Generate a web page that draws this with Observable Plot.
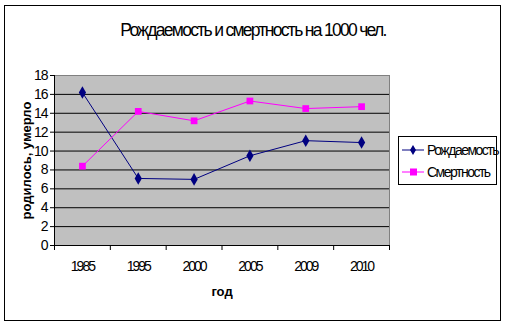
<!DOCTYPE html>
<html>
<head>
<meta charset="utf-8">
<script src="https://cdn.jsdelivr.net/npm/d3@7"></script>
<script src="https://cdn.jsdelivr.net/npm/@observablehq/plot@0.6"></script>
<style>
  html, body { margin: 0; padding: 0; background: #fff; }
  #wrap { position: relative; width: 506px; height: 326px; font-family: "Liberation Sans", Arial, sans-serif; overflow: hidden; }
  #border { position: absolute; left: 4px; top: 5px; width: 495px; height: 314px; border: 1.5px solid #000; }
  #title { position: absolute; left: 0; width: 506px; top: 20px; text-align: center; font-size: 17.5px; letter-spacing: -1.7px; color: #000; }
  #legend { position: absolute; left: 398px; top: 136px; width: 97px; height: 47px; border: 1px solid #000; background: #fff; }
  .li { position: absolute; left: 3px; height: 16px; display: flex; align-items: center; font-size: 14px; letter-spacing: -1.5px; }
  .li svg { margin-right: 2px; }
  #chart { position: absolute; left: 0; top: 0; }
  #chart g[aria-label="x-axis tick label"] text { letter-spacing: -2px; }
  #chart g[aria-label="y-axis tick label"] text { letter-spacing: -1px; }
</style>
</head>
<body>
<div id="wrap">
  <div id="chart"></div>
  <div id="border"></div>
  <div id="title"></div>
  <div id="legend"></div>
</div>
<script>
const categories = ["1985", "1995", "2000", "2005", "2009", "2010"];
const birthRate = [16.2, 7.1, 7.0, 9.5, 11.1, 10.9];
const deathRate = [8.4, 14.2, 13.2, 15.3, 14.5, 14.7];
const seriesNames = ["Рождаемость", "Смертность"];
const yTicks = [0, 2, 4, 6, 8, 10, 12, 14, 16, 18];
const titleText = "Рождаемость и смертность на 1000 чел.";
const yLabel = "родилось, умерло";
const xLabel = "год";

const colors = ["#000080", "#ff00ff"];
const symbols = ["diamond", "square"];

const rows = [];
[birthRate, deathRate].forEach((arr, s) => arr.forEach((v, i) => rows.push({i, v, s: seriesNames[s]})));
const idx = categories.map((_, i) => i);
const bounds = d3.range(-0.5, categories.length, 1);

const plot = Plot.plot({
  width: 506,
  height: 326,
  marginLeft: 54,
  marginRight: 117,
  marginTop: 75,
  marginBottom: 81,
  style: {fontFamily: "Liberation Sans, Arial, sans-serif", background: "transparent"},
  x: {type: "linear", domain: [-0.5, categories.length - 0.5], axis: null},
  y: {domain: [0, 18], axis: null},
  marks: [
    Plot.frame({fill: "#c0c0c0", stroke: "#808080"}),
    Plot.gridY(yTicks.filter(t => t > 0 && t < 18), {stroke: "#000", strokeOpacity: 1, strokeWidth: 1}),
    Plot.ruleX([-0.5], {stroke: "#000"}),
    Plot.ruleY([0], {stroke: "#000"}),
    Plot.axisY({ticks: yTicks, tickSize: 4, tickPadding: 3, fontSize: 14, label: null}),
    Plot.axisX({ticks: bounds, tickSize: 5, tickFormat: () => "", label: null}),
    Plot.axisX({ticks: idx, tickSize: 0, tickPadding: 16, tickFormat: i => categories[i], fontSize: 14, label: null}),
    Plot.text([yLabel], {frameAnchor: "left", textAnchor: "middle", dx: -28, rotate: -90, fontSize: 13, fontWeight: "bold", fill: "#000"}),
    Plot.text([xLabel], {frameAnchor: "bottom", dy: 50, fontSize: 13, fontWeight: "bold", fill: "#000"}),
    Plot.line(rows, {x: "i", y: "v", z: "s", stroke: d => d.s === seriesNames[0] ? colors[0] : colors[1], strokeWidth: 1}),
    Plot.dot(rows, {x: "i", y: "v", symbol: d => d.s === seriesNames[0] ? symbols[0] : symbols[1], fill: d => d.s === seriesNames[0] ? colors[0] : colors[1], r: 3.8, stroke: "none"})
  ]
});
document.getElementById("chart").appendChild(plot);
document.getElementById("title").textContent = titleText;

const legend = document.getElementById("legend");
seriesNames.forEach((name, k) => {
  const item = document.createElement("div");
  item.className = "li";
  item.style.top = (k === 0 ? 5 : 27) + "px";
  const shape = k === 0
    ? `<path d="M11,3 L14,8 L11,13 L8,8 Z" fill="${colors[0]}"/>`
    : `<rect x="8" y="4.5" width="7" height="7" fill="${colors[1]}"/>`;
  item.innerHTML = `<svg width="23" height="16"><line x1="0" x2="22" y1="8" y2="8" stroke="${colors[k]}" stroke-width="1"/>${shape}</svg><span>${name}</span>`;
  legend.appendChild(item);
});
</script>
</body>
</html>
